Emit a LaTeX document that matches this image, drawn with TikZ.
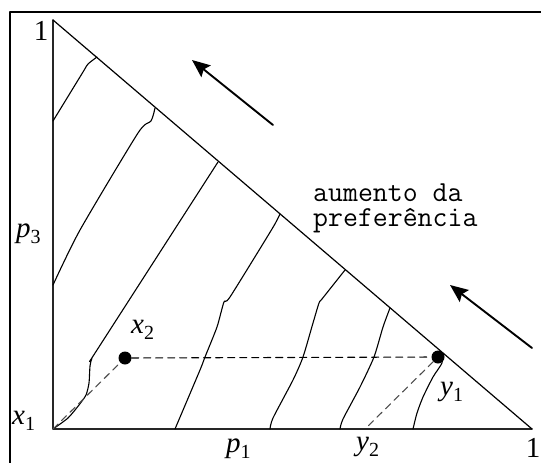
\documentclass[tikz,border=0pt]{standalone}
\usepackage{fontspec}
\setmainfont{Liberation Serif}
\usetikzlibrary{arrows.meta}
\newcommand\etiq[2]{\textit{#1}\raisebox{-6pt}{\fontsize{20}{20}\selectfont #2}}

\begin{document}
\begin{tikzpicture}[x=1pt, y=-1pt, line cap=round, line join=round,
    curva/.style={line width=1.1pt},
    traco/.style={line width=1.1pt, dash pattern=on 7pt off 5pt},
    seta/.style={line width=1.9pt, -{Stealth[length=18pt, width=15pt, inset=3pt]}},
    ponto/.style={circle, fill, inner sep=0pt, minimum size=13pt},
    rot/.style={font=\fontsize{29}{29}\selectfont, inner sep=0pt},
    texto/.style={font=\fontsize{29}{25}\selectfont\ttfamily, inner sep=0pt}]
  \useasboundingbox (0,0) rectangle (541,463);
  % el marco, cortado abajo y a la derecha
  \draw[line width=2.5pt, line cap=butt] (10,463) -- (10,12) -- (541,12);
  % el triangulo
  \coordinate (O) at (53,429);
  \coordinate (T) at (53,20);
  \coordinate (R) at (532,429);
  \draw[line width=1.8pt, black!85] (T) -- (O) -- (R);
  \draw[line width=1.2pt] (T) -- (R);
  % las curvas de indiferencia
  \draw[curva] plot[smooth, tension=0.4] coordinates {(97,57) (88,64) (83,72) (53,121)};
  \draw[curva] plot[smooth, tension=0.4] coordinates {(155,108) (151,121) (138,133) (80,230) (53,285)};
  \draw[curva] plot[smooth, tension=0.4] coordinates {(218,162) (97,350) (92,358) (90,366) (89,383)
    (86,395) (79,405) (68,418) (53,429)};
  \draw[curva] plot[smooth, tension=0.4] coordinates {(280,214) (272,229) (230,297) (224,302)
    (217,327) (205,357) (200,370) (175,429)};
  \draw[curva] plot[smooth, tension=0.4] coordinates {(345,270) (322,299) (319,303) (313,323)
    (303,357) (293,380) (273,418) (270,429)};
  \draw[curva] plot[smooth, tension=0.4] coordinates {(390,308) (383,327) (374,357) (360,387)
    (343,419) (340,429)};
  \draw[curva] plot[smooth, tension=0.4] coordinates {(442,354) (442,363) (433,377) (423,397)
    (417,413) (413,429)};
  % los puntos y las rayas
  \node[ponto] (X2) at (125,358) {};
  \node[ponto] (Y1) at (438,357) {};
  \coordinate (Y2) at (365,429);
  \draw[traco, black!70] (O) -- (X2);
  \draw[traco] (X2) -- (Y1);
  \draw[traco, black!70] (Y1) -- (Y2);
  % las flechas
  \draw[seta] (273,125) -- (192,60);
  \draw[seta] (532,348) -- (450,285);
  % los rotulos
  \node[rot, anchor=base] (um3) at (41,40) {1};
  \node[rot, anchor=base] (um1) at (533,457) {1};
  \node[rot, anchor=base west] (lp3) at (16,237) {\etiq{p}{3}};
  \node[rot, anchor=base west] (lx1) at (12,424) {\etiq{x}{1}};
  \node[rot, anchor=base west] (lx2) at (131,333) {\etiq{x}{2}};
  \node[rot, anchor=base west] (lp1) at (226,452) {\etiq{p}{1}};
  \node[rot, anchor=base west] (ly2) at (356,450) {\etiq{y}{2}};
  \node[rot, anchor=base west] (ly1) at (440,395) {\etiq{y}{1}};
  \node[texto, anchor=base west, align=left] (aum) at (313,226) {aumento da\\preferência};
\end{tikzpicture}
\end{document}
